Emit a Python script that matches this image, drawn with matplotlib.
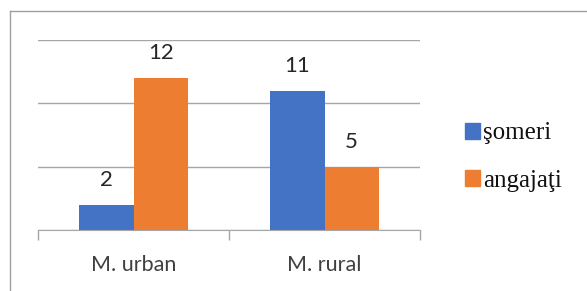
import matplotlib.pyplot as plt
import numpy as np
from matplotlib.lines import Line2D

# data
categories = ['M. urban', 'M. rural']
someri = [2, 11]
angajati = [12, 5]
series_names = ['şomeri', 'angajaţi']

blue = '#4472C4'
orange = '#ED7D31'
grid_col = '#A6A6A6'
txt_col = '#404040'

fig = plt.figure(figsize=(5.87, 2.91), dpi=100)
ax = fig.add_axes([38/587, 1 - 230/291, 382/587, 190/291])

x = np.arange(len(categories))
w = 0.285
b1 = ax.bar(x - w/2, someri, width=w, color=blue, label=series_names[0])
b2 = ax.bar(x + w/2, angajati, width=w, color=orange, label=series_names[1])

for bars in (b1, b2):
    for b in bars:
        ax.annotate(f'{int(b.get_height())}',
                    (b.get_x() + b.get_width()/2, b.get_height()),
                    xytext=(0, 18), textcoords='offset points',
                    ha='center', va='center', fontsize=16,
                    color='#262626', family='Lato')

ax.set_xlim(-0.5, 1.5)
ax.set_ylim(0, 15)
ax.set_yticks([0, 5, 10, 15])
ax.yaxis.grid(True, color=grid_col, linewidth=1)
ax.set_axisbelow(True)
ax.tick_params(axis='y', length=0, labelleft=False)

ax.set_xticks(x)
ax.set_xticklabels(categories, fontsize=15.5, color=txt_col, family='Lato')
ax.tick_params(axis='x', which='major', length=0, pad=18)
ax.set_xticks([-0.5, 0.5, 1.5], minor=True)
ax.tick_params(axis='x', which='minor', length=7, color=grid_col, width=1)

for s in ['top', 'right', 'left']:
    ax.spines[s].set_visible(False)
ax.spines['bottom'].set_color(grid_col)

handles = [plt.Rectangle((0, 0), 1, 1, color=blue),
           plt.Rectangle((0, 0), 1, 1, color=orange)]
leg = fig.legend(handles, series_names, loc='center left',
                 bbox_to_anchor=(442/587, 1 - 157/291), frameon=False,
                 fontsize=18,
                 handlelength=0.6, handleheight=0.6, handletextpad=0.15,
                 labelspacing=1.0)
for t in leg.get_texts():
    t.set_fontfamily(['Liberation Serif', 'DejaVu Serif'])
    t.set_color('#111111')

# outer border (only left and top visible in the crop)
fig.add_artist(Line2D([10/587, 10/587], [0, 1 - 11/291],
                      transform=fig.transFigure, color='#A0A0A0', lw=1))
fig.add_artist(Line2D([10/587, 1], [1 - 11/291, 1 - 11/291],
                      transform=fig.transFigure, color='#A0A0A0', lw=1))

fig.savefig('out.png', dpi=100)
